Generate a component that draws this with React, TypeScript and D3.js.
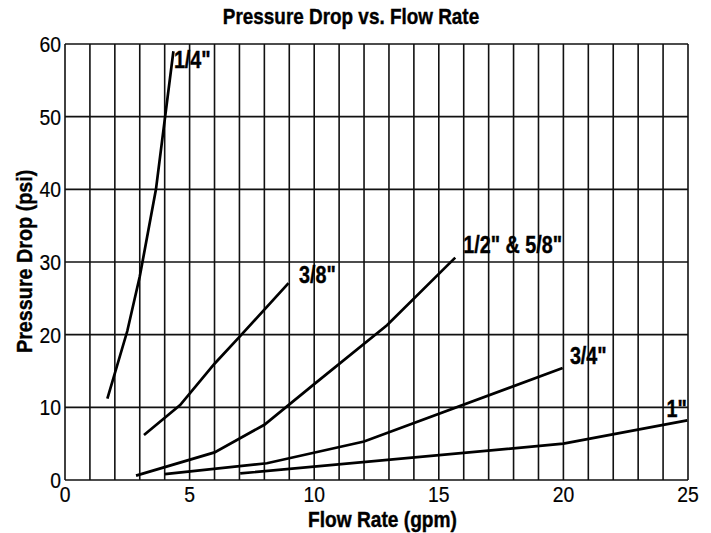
import { useMemo } from "react";
import * as d3 from "d3";

const WIDTH = 711;
const HEIGHT = 533;
const MARGIN = { top: 44, right: 23, bottom: 53, left: 65 };
// narrow sans faces are not installed, so Liberation Sans is squeezed horizontally
const FONT = "'Liberation Sans', Arial, sans-serif";

// tick values
const X_TICKS = [0, 5, 10, 15, 20, 25];
const Y_TICKS = [0, 10, 20, 30, 40, 50, 60];
const X_GRID = d3.range(0, 26);

// curves: [flow gpm, pressure drop psi]
const quarter: [number, number][] = [
  [1.7, 11.2], [2.5, 20.5], [3.0, 28], [3.65, 40], [4.35, 59],
];
const threeEighths: [number, number][] = [
  [3.17, 6.2], [4.62, 10.3], [6.0, 16], [7.0, 19.7], [8.97, 27.1],
];
const halfFiveEighths: [number, number][] = [
  [2.85, 0.6], [6.0, 3.8], [8.0, 7.6], [10.0, 13.2], [12.92, 21.3], [15.66, 30.6],
];
const threeQuarter: [number, number][] = [
  [4.0, 0.8], [8.1, 2.3], [12.0, 5.3], [19.97, 15.4],
];
const oneInch: [number, number][] = [
  [7.03, 0.9], [20.0, 5.0], [24.97, 8.2],
];

const series = [
  { name: "1/4\"", data: quarter, label: [4.37, 56.7], anchor: "start" },
  { name: "3/8\"", data: threeEighths, label: [9.39, 27.15], anchor: "start" },
  { name: "1/2\" & 5/8\"", data: halfFiveEighths, label: [15.98, 31.2], anchor: "start" },
  { name: "3/4\"", data: threeQuarter, label: [20.26, 15.96], anchor: "start" },
  { name: "1\"", data: oneInch, label: [24.95, 8.71], anchor: "end" },
];

type STextProps = {
  x: number;
  y: number;
  sx: number;
  size: number;
  bold?: boolean;
  anchor?: string;
  rotate?: number;
  children: React.ReactNode;
};

const SText = ({ x, y, sx, size, bold, anchor = "start", rotate = 0, children }: STextProps) => (
  <text
    transform={`translate(${x},${y}) rotate(${rotate}) scale(${sx},1)`}
    textAnchor={anchor}
    fontSize={size}
    fontWeight={bold ? "bold" : "normal"}
    stroke="#000"
    strokeWidth={bold ? 0.4 : 0.2}
  >
    {children}
  </text>
);

export default function App() {
  const boundsWidth = WIDTH - MARGIN.left - MARGIN.right;
  const boundsHeight = HEIGHT - MARGIN.top - MARGIN.bottom;

  const xScale = useMemo(
    () => d3.scaleLinear().domain([0, 25]).range([0, boundsWidth]),
    [boundsWidth]
  );
  const yScale = useMemo(
    () => d3.scaleLinear().domain([0, 60]).range([boundsHeight, 0]),
    [boundsHeight]
  );

  const line = d3
    .line<[number, number]>()
    .x((d) => xScale(d[0]))
    .y((d) => yScale(d[1]));

  return (
    <svg
      width={WIDTH}
      height={HEIGHT}
      style={{ position: "absolute", left: 0, top: 0, background: "#fff" }}
      fontFamily={FONT}
    >
      <SText x={351} y={24} sx={0.86} size={22} bold anchor="middle">
        Pressure Drop vs. Flow Rate
      </SText>

      <g transform={`translate(${MARGIN.left},${MARGIN.top})`}>
        {/* vertical grid */}
        {X_GRID.map((v) => (
          <line
            key={"vx" + v}
            x1={xScale(v)}
            x2={xScale(v)}
            y1={0}
            y2={boundsHeight}
            stroke="#111"
            strokeWidth={1.6}
          />
        ))}
        {/* horizontal grid */}
        {Y_TICKS.map((v) => (
          <line
            key={"hy" + v}
            x1={0}
            x2={boundsWidth}
            y1={yScale(v)}
            y2={yScale(v)}
            stroke="#111"
            strokeWidth={1.6}
          />
        ))}

        {/* y tick labels */}
        {Y_TICKS.map((v) => (
          <SText key={"yt" + v} x={-4} y={yScale(v) + 8} sx={0.86} size={22.5} anchor="end">
            {v}
          </SText>
        ))}
        {/* x tick labels */}
        {X_TICKS.map((v) => (
          <SText key={"xt" + v} x={xScale(v)} y={boundsHeight + 21.5} sx={0.86} size={22.5} anchor="middle">
            {v}
          </SText>
        ))}

        {series.map((s) => (
          <g key={s.name}>
            <path
              d={line(s.data) || ""}
              fill="none"
              stroke="#000"
              strokeWidth={2.7}
            />
            <SText
              x={xScale(s.label[0])}
              y={yScale(s.label[1])}
              sx={0.84}
              size={23.5}
              bold
              anchor={s.anchor}
            >
              {s.name}
            </SText>
          </g>
        ))}
      </g>

      <SText x={382.5} y={527} sx={0.89} size={21.5} bold anchor="middle">
        Flow Rate (gpm)
      </SText>
      <SText x={32.3} y={261.3} sx={0.92} size={21.5} bold anchor="middle" rotate={-90}>
        Pressure Drop (psi)
      </SText>
    </svg>
  );
}
